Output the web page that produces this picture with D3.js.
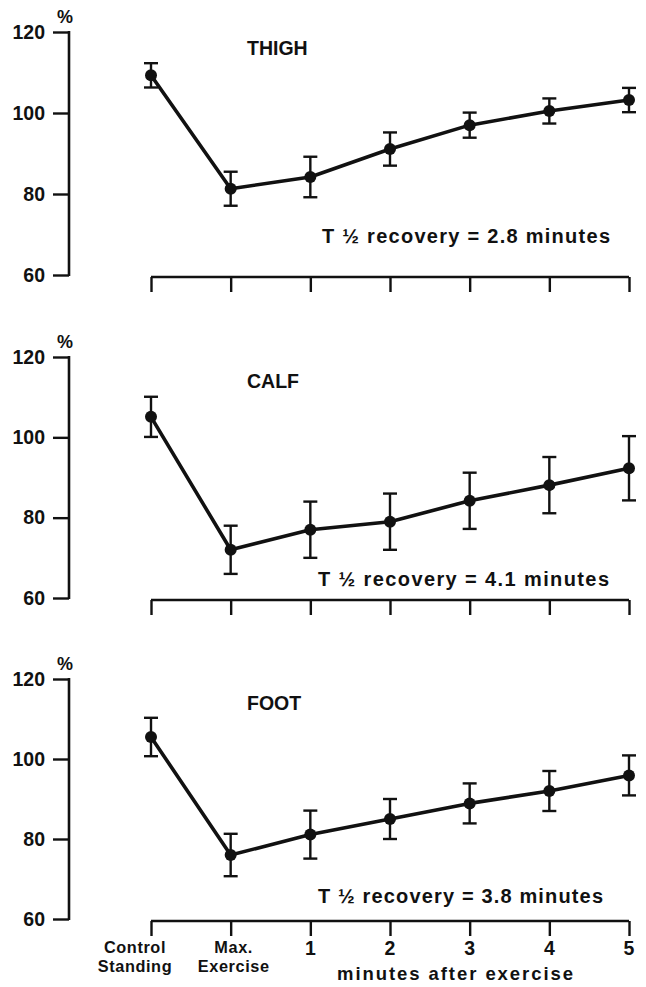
<!DOCTYPE html>
<html>
<head>
<meta charset="utf-8">
<script src="https://cdn.jsdelivr.net/npm/d3@7"></script>
<style>
  body { margin: 0; background: #fff; }
  svg { display: block; }
  text { font-family: "Liberation Sans", Arial, sans-serif; font-weight: bold; fill: #111; }
</style>
</head>
<body>
<svg width="646" height="987"></svg>
<script>
// categories on the x axis (shared by all three panels)
var categories = ["Control Standing", "Max. Exercise", "1", "2", "3", "4", "5"];
var yTicks = [60, 80, 100, 120];

// per cent of control, mean and error bar half-width
var thighMean = [109.3, 81.3, 84.2, 91.1, 97.0, 100.5, 103.2];
var thighErr  = [3.0, 4.2, 5.0, 4.1, 3.1, 3.1, 3.0];
var calfMean  = [105.1, 72.0, 77.0, 79.0, 84.2, 88.1, 92.3];
var calfErr   = [5.0, 6.0, 7.0, 7.0, 7.0, 7.0, 8.0];
var footMean  = [105.5, 76.0, 81.1, 85.0, 88.9, 92.0, 95.9];
var footErr   = [4.8, 5.3, 6.0, 5.0, 5.0, 5.0, 5.0];

var panelNames = ["THIGH", "CALF", "FOOT"];
var recoveryLabels = ["T \u00BD recovery = 2.8 minutes",
                      "T \u00BD recovery = 4.1 minutes",
                      "T \u00BD recovery = 3.8 minutes"];

// layout of each panel (pixels)
var panels = [
    {mean: thighMean, err: thighErr, top: 32,  bottom: 275, titleDy: 23, recDy: -32, recX: 322, recW: 288},
    {mean: calfMean,  err: calfErr,  top: 357, bottom: 598, titleDy: 31, recDy: -12, recX: 318, recW: 291},
    {mean: footMean,  err: footErr,  top: 679, bottom: 919, titleDy: 31, recDy: -16, recX: 318, recW: 285}
];

var svg = d3.select("svg");
var axisX = 69;
var ink = "#111";

var x = d3.scalePoint()
    .domain(categories)
    .range([151, 629]);

panels.forEach(function(p, pi) {
    var y = d3.scaleLinear()
        .domain([60, 120])
        .range([p.bottom, p.top]);

    var g = svg.append("g");

    // y axis
    var yAxis = d3.axisLeft(y)
        .tickValues(yTicks)
        .tickSize(16)
        .tickPadding(8)
        .tickFormat(d3.format("d"));

    var ya = g.append("g")
        .attr("transform", "translate(" + axisX + ",0)")
        .call(yAxis);
    ya.select(".domain").remove();
    ya.append("line")
        .attr("x1", 0).attr("x2", 0)
        .attr("y1", y(120) - 1).attr("y2", y(60) + 1)
        .attr("stroke", ink).attr("stroke-width", 2.6);
    ya.selectAll(".tick line").attr("stroke", ink).attr("stroke-width", 2.4);
    ya.selectAll(".tick text")
        .style("font-size", "19.5px")
        .style("font-family", "'Liberation Sans', Arial, sans-serif")
        .style("font-weight", "bold")
        .attr("fill", ink);

    g.append("text")
        .attr("x", axisX - 4)
        .attr("y", y(120) - 9)
        .attr("text-anchor", "middle")
        .style("font-size", "18px")
        .text("%");

    // x axis
    var xAxis = d3.axisBottom(x)
        .tickSize(15)
        .tickFormat(function() { return ""; });
    var xa = g.append("g")
        .attr("transform", "translate(0," + (y(60) + 2) + ")")
        .call(xAxis);
    xa.select(".domain")
        .attr("d", "M" + x(categories[0]) + ",0H" + x(categories[categories.length - 1]))
        .attr("stroke", ink).attr("stroke-width", 2.6);
    xa.selectAll(".tick line").attr("stroke", ink).attr("stroke-width", 2.4);

    // panel title and recovery note
    g.append("text")
        .attr("x", 247)
        .attr("y", y(120) + p.titleDy)
        .style("font-size", "19.5px")
        .text(panelNames[pi]);

    g.append("text")
        .attr("x", p.recX)
        .attr("y", y(60) + p.recDy)
        .attr("textLength", p.recW)
        .attr("lengthAdjust", "spacing")
        .style("font-size", "20px")
        .text(recoveryLabels[pi]);

    var pts = categories.map(function(c, i) {
        return {cat: c, v: p.mean[i], e: p.err[i]};
    });

    // connecting line
    g.append("path")
        .datum(pts)
        .attr("fill", "none")
        .attr("stroke", ink)
        .attr("stroke-width", 3.6)
        .attr("stroke-linejoin", "round")
        .attr("d", d3.line()
            .x(function(d) { return x(d.cat); })
            .y(function(d) { return y(d.v); }));

    // error bars
    var eb = g.append("g").selectAll("g")
        .data(pts)
        .enter().append("g")
        .attr("stroke", ink)
        .attr("stroke-width", 2.4);
    eb.append("line")
        .attr("x1", function(d) { return x(d.cat); })
        .attr("x2", function(d) { return x(d.cat); })
        .attr("y1", function(d) { return y(d.v + d.e); })
        .attr("y2", function(d) { return y(d.v - d.e); });
    [1, -1].forEach(function(s) {
        eb.append("line")
            .attr("x1", function(d) { return x(d.cat) - 7; })
            .attr("x2", function(d) { return x(d.cat) + 7; })
            .attr("y1", function(d) { return y(d.v + s * d.e); })
            .attr("y2", function(d) { return y(d.v + s * d.e); });
    });

    // points
    g.append("g").selectAll("circle")
        .data(pts)
        .enter().append("circle")
        .attr("cx", function(d) { return x(d.cat); })
        .attr("cy", function(d) { return y(d.v); })
        .attr("r", 6)
        .attr("fill", ink);
});

// category labels under the bottom panel only
var last = panels[panels.length - 1];
var labelY = last.bottom + 36;
var labG = svg.append("g");
categories.forEach(function(c, i) {
    var words = c.split(" ");
    var cx = x(c) + (i === 0 ? -16 : (i === 1 ? 3 : 0));
    words.forEach(function(w, k) {
        labG.append("text")
            .attr("text-anchor", "middle")
            .attr("x", cx)
            .attr("y", words.length === 1 ? labelY : labelY - 2 + k * 18.5)
            .style("font-size", words.length === 1 ? "19.5px" : "16.3px")
            .style("letter-spacing", words.length === 1 ? "0px" : "0.6px")
            .text(w);
    });
});

svg.append("text")
    .attr("x", 337)
    .attr("y", last.bottom + 61)
    .attr("textLength", 236)
    .attr("lengthAdjust", "spacing")
    .style("font-size", "18.5px")
    .text("minutes after exercise");
</script>
</body>
</html>
